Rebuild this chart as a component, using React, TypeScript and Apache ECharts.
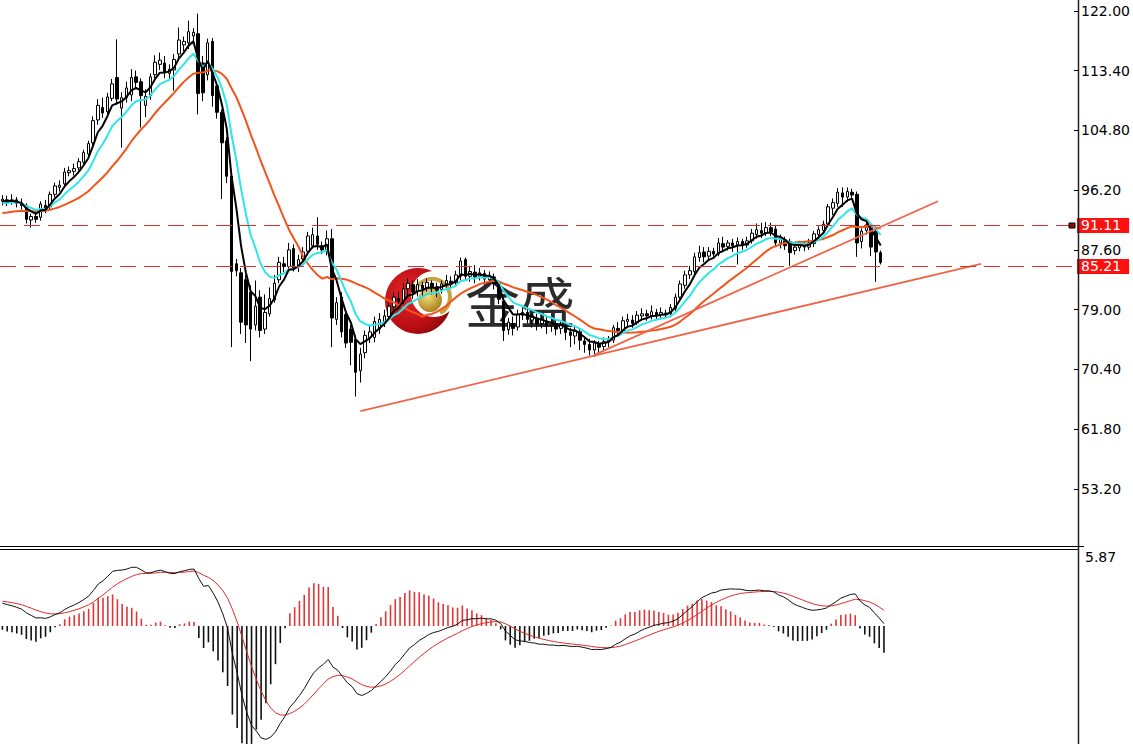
import React, { useEffect, useRef } from "react";
import * as echarts from "echarts";

// ---- candles (open / close / low / high), one per bar ----
const OPEN = [
  94.6, 94.8, 94.5, 94.8, 94.3, 94.0, 91.9, 92.4, 92.3, 94.0,
  93.8, 95.6, 96.6, 97.1, 98.7, 98.9, 99.4, 100.2, 101.4, 103.0,
  106.3, 108.1, 107.5, 109.4, 112.4, 108.0, 109.5, 109.9, 112.5, 111.8,
  108.4, 109.8, 112.8, 114.3, 114.5, 113.0, 113.5, 115.8, 117.1, 117.4,
  118.4, 118.7, 114.5, 112.8, 117.6, 111.2, 107.4, 103.3, 98.2, 85.6,
  84.3, 83.3, 81.5, 76.8, 80.8, 76.2, 78.4, 80.4, 83.3, 85.6,
  85.2, 87.8, 85.2, 86.3, 87.4, 88.2, 89.6, 88.2, 87.4, 89.2,
  77.6, 80.8, 78.3, 76.2, 74.7, 70.2, 72.8, 75.0, 75.0, 76.2,
  77.2, 78.0, 79.4, 80.6, 80.3, 82.0, 82.6, 81.6, 82.5, 82.1,
  82.8, 82.3, 81.9, 82.7, 83.1, 82.9, 83.8, 86.2, 83.8, 84.4,
  83.8, 84.2, 83.3, 83.7, 82.8, 80.2, 76.1, 77.0, 76.5, 78.2,
  78.6, 77.5, 77.8, 77.0, 77.4, 76.7, 77.0, 76.3, 76.7, 75.8,
  75.2, 75.8, 74.5, 74.0, 73.2, 74.0, 73.7, 74.4, 74.6, 76.3,
  76.0, 77.3, 77.5, 77.1, 78.1, 78.4, 78.1, 78.6, 78.3, 78.5,
  78.4, 79.2, 80.8, 82.5, 84.0, 84.5, 86.5, 87.3, 86.7, 87.4,
  87.0, 88.5, 88.1, 88.6, 88.3, 88.8, 88.3, 88.9, 89.8, 90.4,
  90.0, 90.8, 90.6, 88.6, 89.0, 88.8, 87.5, 87.9, 88.2, 88.0,
  88.5, 89.8, 90.4, 91.3, 93.6, 94.3, 95.8, 95.2, 95.9, 95.6,
  88.8, 90.4, 90.8, 90.3, 87.2,
];
const CLOSE = [
  94.9, 94.5, 94.8, 94.3, 94.0, 92.0, 92.4, 92.0, 94.2, 93.6,
  95.6, 96.8, 96.9, 98.8, 99.0, 99.3, 100.3, 101.6, 102.9, 106.2,
  108.4, 107.3, 109.6, 111.5, 109.3, 109.5, 110.9, 112.4, 111.7, 109.8,
  109.7, 112.5, 114.6, 114.9, 113.2, 113.6, 115.0, 117.8, 117.6, 119.0,
  118.9, 110.1, 110.2, 117.4, 109.8, 107.4, 103.0, 98.2, 84.5, 84.6,
  77.2, 76.8, 76.2, 79.5, 76.0, 78.6, 80.6, 82.8, 85.8, 85.2,
  87.6, 85.0, 86.2, 87.3, 89.6, 89.8, 88.4, 87.6, 89.2, 77.8,
  80.0, 75.8, 74.2, 74.3, 70.0, 72.6, 75.3, 75.8, 77.3, 77.6,
  78.1, 79.5, 80.8, 80.2, 82.0, 82.8, 81.5, 82.6, 82.0, 82.9,
  82.3, 81.8, 82.7, 83.2, 82.8, 84.0, 86.0, 83.8, 84.5, 83.7,
  84.3, 83.4, 83.9, 82.7, 80.5, 76.0, 77.2, 76.3, 78.3, 78.6,
  77.6, 77.9, 76.9, 77.5, 76.6, 76.9, 76.2, 76.8, 75.7, 75.3,
  75.9, 74.6, 74.0, 73.2, 74.2, 73.6, 74.4, 74.6, 76.4, 76.0,
  77.4, 77.6, 77.0, 78.2, 78.4, 78.1, 78.7, 78.2, 78.6, 78.3,
  79.3, 80.8, 82.7, 84.0, 84.6, 86.6, 87.2, 86.6, 87.4, 87.0,
  88.6, 88.0, 88.6, 88.2, 88.8, 88.3, 88.9, 90.0, 90.5, 90.0,
  90.8, 90.2, 88.6, 89.2, 88.2, 87.2, 88.0, 88.3, 88.0, 88.6,
  89.9, 90.5, 91.3, 93.8, 94.4, 95.9, 95.2, 96.0, 95.5, 88.6,
  90.3, 91.2, 88.0, 87.3, 85.8,
];
const LOW = [
  94.0, 93.9, 94.1, 93.7, 93.4, 91.4, 90.8, 91.5, 91.8, 92.9,
  93.4, 95.2, 96.0, 96.8, 98.2, 98.3, 99.0, 99.9, 101.0, 102.6,
  105.6, 106.6, 107.0, 109.0, 108.5, 102.3, 108.8, 109.0, 110.9, 105.2,
  106.7, 109.2, 112.3, 113.5, 112.3, 112.0, 110.5, 114.9, 116.2, 116.5,
  117.6, 107.1, 109.0, 112.0, 108.2, 106.5, 94.9, 97.2, 73.6, 83.8,
  75.5, 74.2, 71.6, 76.0, 75.0, 75.5, 78.0, 80.0, 82.8, 84.4,
  84.6, 84.5, 84.4, 85.8, 87.0, 87.8, 87.6, 87.0, 86.8, 73.6,
  76.8, 75.0, 73.5, 71.0, 66.5, 68.5, 72.0, 74.2, 74.3, 75.5,
  76.5, 77.5, 79.0, 79.2, 79.8, 81.0, 80.5, 80.9, 81.0, 81.6,
  81.2, 80.8, 81.3, 82.2, 82.0, 82.4, 83.2, 83.2, 83.0, 82.8,
  83.2, 82.6, 82.8, 81.9, 79.8, 74.5, 75.4, 75.3, 76.0, 77.5,
  77.0, 76.4, 76.0, 76.3, 75.5, 75.8, 75.3, 75.5, 74.6, 73.6,
  74.0, 73.2, 72.8, 72.4, 72.2, 72.6, 73.0, 73.6, 74.2, 75.2,
  75.6, 76.6, 76.4, 76.8, 77.6, 77.4, 77.6, 77.5, 77.6, 77.8,
  77.9, 78.8, 80.3, 82.0, 83.4, 84.1, 85.9, 85.8, 86.2, 86.4,
  86.7, 87.3, 87.5, 87.3, 85.5, 87.6, 87.9, 88.5, 89.2, 89.3,
  89.6, 89.6, 88.0, 87.8, 87.6, 85.3, 86.9, 87.4, 87.4, 87.6,
  88.0, 89.3, 89.9, 91.0, 92.6, 93.8, 93.8, 94.5, 94.8, 86.6,
  87.8, 89.8, 86.7, 83.0, 85.5,
];
const HIGH = [
  95.5, 95.4, 95.6, 95.2, 95.0, 94.3, 92.8, 93.2, 94.6, 94.8,
  96.0, 97.3, 97.6, 99.4, 99.6, 100.0, 100.8, 102.0, 103.3, 106.8,
  109.3, 109.5, 110.2, 112.2, 117.9, 110.3, 111.8, 113.6, 113.4, 112.3,
  110.7, 113.0, 115.6, 116.0, 115.5, 114.3, 115.8, 119.6, 118.3, 120.6,
  119.5, 121.6, 115.5, 118.0, 118.1, 111.8, 107.8, 103.8, 98.6, 86.3,
  85.0, 84.0, 82.5, 83.2, 81.8, 81.2, 82.2, 84.0, 86.6, 86.6,
  88.6, 88.4, 86.9, 88.0, 90.2, 90.8, 92.3, 88.8, 90.4, 90.6,
  80.8, 81.5, 79.0, 76.8, 75.3, 73.5, 76.0, 76.8, 78.0, 78.5,
  79.0, 80.0, 81.5, 81.6, 82.8, 83.5, 83.2, 83.4, 83.0, 83.5,
  83.2, 82.9, 83.2, 84.0, 83.8, 84.6, 86.5, 86.5, 85.3, 85.4,
  85.0, 84.7, 84.5, 84.2, 83.1, 80.6, 77.8, 78.0, 79.0, 79.3,
  79.5, 78.5, 78.4, 78.2, 78.0, 77.6, 77.5, 77.3, 77.2, 76.4,
  76.5, 76.2, 75.2, 74.8, 74.6, 74.5, 75.0, 75.2, 76.8, 77.2,
  78.0, 78.4, 78.2, 78.8, 79.2, 79.0, 79.6, 79.1, 79.3, 79.0,
  79.8, 81.3, 83.2, 84.6, 85.3, 87.2, 88.2, 88.0, 88.0, 87.9,
  89.3, 89.5, 89.0, 89.2, 89.4, 89.2, 89.5, 90.6, 91.4, 91.5,
  91.6, 91.5, 91.2, 89.8, 89.5, 89.2, 88.5, 88.9, 88.8, 89.2,
  90.3, 91.0, 91.8, 94.2, 95.0, 96.5, 96.6, 96.6, 96.4, 96.0,
  90.7, 91.6, 91.3, 90.6, 87.5,
];

// ---- axis / annotation values ----
const SLOT_COUNT = 225; // bar slots across the plot (chart shift leaves empty space on the right)
const PRICE_MIN = 45.13;
const PRICE_MAX = 123.56;
const PRICE_TICKS = [53.2, 61.8, 70.4, 79.0, 87.6, 96.2, 104.8, 113.4, 122.0];
const PRICE_LINES = [91.11, 85.21];
const MACD_MIN = -9.11;
const MACD_MAX = 5.87;
const MACD_TICKS = [5.87];
const TREND_A = [[75, 64.4], [205, 85.6]];
const TREND_B = [[124, 72.5], [196, 94.6]];
const LOGO_TEXT = "金盛";

// ---- indicator settings ----
const MA_PERIODS = [5, 10, 20]; // fast EMA, mid EMA, slow SMA
const MA_SEEDS = [94.5, 94.2, 92.8];
const MACD_PERIODS = [12, 26, 9];
const MACD_SEEDS = [94.2, 92.35, 1.95];
const HIST_FACTOR = 2;

function ema(src: number[], period: number, seed: number): number[] {
  const a = 2 / (period + 1);
  let p = seed;
  return src.map((v) => {
    p = p + a * (v - p);
    return +p.toFixed(3);
  });
}

function sma(src: number[], period: number, seed: number): number[] {
  return src.map((_, i) => {
    let s = 0;
    let n = 0;
    for (let k = Math.max(0, i - period + 1); k <= i; k++) {
      s += src[k];
      n++;
    }
    s += (period - n) * seed;
    return +(s / period).toFixed(3);
  });
}

export default function App() {
  const ref = useRef<HTMLDivElement>(null);

  useEffect(() => {
    document.body.style.margin = "0";
    if (!ref.current) return;
    const chart = echarts.init(ref.current, undefined, { renderer: "svg" });

    const cats = Array.from({ length: SLOT_COUNT }, (_, i) => String(i));
    const candles = OPEN.map((o, i) => [o, CLOSE[i], LOW[i], HIGH[i]]);
    const maFast = ema(CLOSE, MA_PERIODS[0], MA_SEEDS[0]);
    const maMid = ema(CLOSE, MA_PERIODS[1], MA_SEEDS[1]);
    const maSlow = sma(CLOSE, MA_PERIODS[2], MA_SEEDS[2]);
    const e12 = ema(CLOSE, MACD_PERIODS[0], MACD_SEEDS[0]);
    const e26 = ema(CLOSE, MACD_PERIODS[1], MACD_SEEDS[1]);
    const dif = e12.map((v, i) => +(v - e26[i]).toFixed(3));
    const dea = ema(dif, MACD_PERIODS[2], MACD_SEEDS[2]);
    const hist = dif.map((v, i) => {
      const h = +((v - dea[i]) * HIST_FACTOR).toFixed(3);
      return { value: h, itemStyle: { color: h >= 0 ? "#e23535" : "#111" } };
    });

    const font = "DejaVu Sans";
    const dashStyle = { type: [16, 8], color: "#e0302a", width: 1, opacity: 1 };

    chart.setOption({
      animation: false,
      backgroundColor: "#ffffff",
      grid: [
        { left: 0, right: 55, top: 0, height: 545 },
        { left: 0, right: 55, top: 550, height: 194 },
      ],
      xAxis: [
        { type: "category", data: cats, gridIndex: 0, show: false },
        { type: "category", data: cats, gridIndex: 1, show: false },
      ],
      yAxis: [
        {
          type: "value",
          gridIndex: 0,
          position: "right",
          min: PRICE_MIN,
          max: PRICE_MAX,
          axisLine: { show: false },
          splitLine: { show: false },
          axisTick: {
            show: true,
            length: 5,
            customValues: PRICE_TICKS,
            lineStyle: { color: "#000" },
          },
          axisLabel: {
            customValues: PRICE_TICKS,
            formatter: (v: number) => v.toFixed(2),
            margin: 7,
            color: "#000",
            fontFamily: font,
            fontSize: 14,
          },
        },
        {
          type: "value",
          gridIndex: 1,
          position: "right",
          min: MACD_MIN,
          max: MACD_MAX,
          axisLine: { show: false },
          splitLine: { show: false },
          axisTick: { show: false },
          axisLabel: {
            customValues: MACD_TICKS,
            formatter: (v: number) => v.toFixed(2),
            margin: 7,
            verticalAlign: "top",
            color: "#000",
            fontFamily: font,
            fontSize: 14,
          },
        },
      ],
      graphic: [
        {
          type: "circle",
          z: 0,
          shape: { cx: 418, cy: 301, r: 33 },
          style: {
            fill: {
              type: "radial",
              x: 0.35,
              y: 0.4,
              r: 0.75,
              colorStops: [
                { offset: 0, color: "#e8262a" },
                { offset: 0.7, color: "#b50d12" },
                { offset: 1, color: "#7c0508" },
              ],
            },
          },
        },
        {
          type: "circle",
          z: 0,
          shape: { cx: 434, cy: 294, r: 23 },
          style: { fill: "#ffffff" },
        },
        {
          type: "arc",
          z: 0,
          shape: { cx: 432, cy: 297, r: 18, startAngle: -Math.PI * 0.95, endAngle: Math.PI * 0.35, clockwise: true },
          style: { stroke: "#c9a23a", lineWidth: 4, fill: "none" },
        },
        {
          type: "circle",
          z: 0,
          shape: { cx: 430, cy: 300, r: 12 },
          style: {
            fill: {
              type: "radial",
              x: 0.4,
              y: 0.35,
              r: 0.7,
              colorStops: [
                { offset: 0, color: "#f3dc7a" },
                { offset: 1, color: "#a57c17" },
              ],
            },
          },
        },
        {
          type: "text",
          z: 0,
          x: 465,
          y: 271,
          style: {
            text: LOGO_TEXT,
            fontSize: 55,
            fontFamily: "Noto Sans CJK SC",
            fill: "#2b2b2b",
          },
        },
        {
          type: "line",
          z: 10,
          shape: { x1: 1078.5, y1: 0, x2: 1078.5, y2: 744 },
          style: { stroke: "#222", lineWidth: 1.5 },
        },
        {
          type: "line",
          z: 10,
          shape: { x1: 0, y1: 546.5, x2: 1084, y2: 546.5 },
          style: { stroke: "#000", lineWidth: 1 },
        },
        {
          type: "line",
          z: 10,
          shape: { x1: 0, y1: 549.5, x2: 1078, y2: 549.5 },
          style: { stroke: "#000", lineWidth: 1 },
        },
        {
          type: "rect",
          z: 10,
          shape: { x: 1069, y: 223, width: 6, height: 5 },
          style: { fill: "#8a0c0c", stroke: "#000", lineWidth: 1 },
        },
      ],
      series: [
        {
          type: "line",
          name: "priceLines",
          data: [],
          xAxisIndex: 0,
          yAxisIndex: 0,
          color: "#e0302a",
          markLine: {
            silent: true,
            symbol: ["none", "none"],
            lineStyle: dashStyle,
            data: PRICE_LINES.map((p) => ({
              yAxis: p,
              lineStyle: dashStyle,
              label: {
                show: true,
                position: "end",
                distance: 3,
                formatter: p.toFixed(2),
                color: "#ffffff",
                backgroundColor: "#ff1010",
                padding: [1, 8, 0, 4],
                fontFamily: font,
                fontSize: 14,
                lineHeight: 14,
              },
            })),
          },
        },
        {
          type: "candlestick",
          xAxisIndex: 0,
          yAxisIndex: 0,
          data: candles,
          barWidth: 3,
          itemStyle: {
            color: "#ffffff",
            color0: "#000000",
            borderColor: "#000000",
            borderColor0: "#000000",
            borderWidth: 1,
          },
        },
        {
          type: "line",
          data: maSlow,
          showSymbol: false,
          lineStyle: { color: "#f2541b", width: 2 },
        },
        {
          type: "line",
          data: maMid,
          showSymbol: false,
          lineStyle: { color: "#2ee6ea", width: 2 },
        },
        {
          type: "line",
          data: maFast,
          showSymbol: false,
          lineStyle: { color: "#000000", width: 2 },
        },
        {
          type: "line",
          data: TREND_A,
          showSymbol: false,
          lineStyle: { color: "#f0644a", width: 1.8 },
        },
        {
          type: "line",
          data: TREND_B,
          showSymbol: false,
          lineStyle: { color: "#f0644a", width: 1.8 },
        },
        {
          type: "bar",
          xAxisIndex: 1,
          yAxisIndex: 1,
          data: hist,
          barWidth: 1.6,
        },
        {
          type: "line",
          xAxisIndex: 1,
          yAxisIndex: 1,
          data: dea,
          showSymbol: false,
          lineStyle: { color: "#e02a2a", width: 1 },
        },
        {
          type: "line",
          xAxisIndex: 1,
          yAxisIndex: 1,
          data: dif,
          showSymbol: false,
          lineStyle: { color: "#111111", width: 1 },
        },
      ],
    });

    return () => chart.dispose();
  }, []);

  return <div ref={ref} style={{ width: 1133, height: 744 }} />;
}
